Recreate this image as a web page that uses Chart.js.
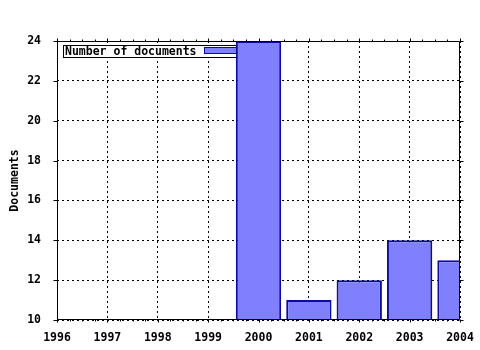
<!DOCTYPE html>
<html>
<head>
<meta charset="utf-8">
<script src="https://cdn.jsdelivr.net/npm/chart.js@4.4.1/dist/chart.umd.min.js"></script>
<style>
  html, body { margin: 0; padding: 0; background: #fff; }
  #c { display: block; }
</style>
</head>
<body>
<canvas id="c" width="480" height="350"></canvas>
<script>
// Documents per year
const years = [2000, 2001, 2002, 2003, 2004];
const documents = [24, 11, 12, 14, 13];
const seriesLabel = 'Number of documents';
const axisTitle = 'Documents';
const xRange = [1996, 2004];
const yRange = [10, 24];

const barFill = '#8080ff';
const barEdge = '#0c0c9c';
const FONT = 'DejaVu Sans Mono';
const FONT_SIZE = 11.5;

Chart.defaults.font.family = FONT;
Chart.defaults.font.size = FONT_SIZE;
Chart.defaults.font.weight = 'bold';
Chart.defaults.color = '#000';

// gnuplot-like frame with short outward ticks on all four sides
const frameTicks = {
    id: 'frameTicks',
    afterDatasetsDraw(chart) {
        const { ctx, chartArea: a, scales: { x, y } } = chart;
        const L = Math.round(a.left) + 0.5, R = Math.round(a.right) - 0.5;
        const T = Math.round(a.top) + 0.5, B = Math.round(a.bottom) - 0.5;
        ctx.save();
        ctx.strokeStyle = '#000';
        ctx.lineWidth = 1;
        ctx.beginPath();
        ctx.rect(L, T, R - L, B - T);
        for (let v = xRange[0]; v <= xRange[1] + 1e-9; v += 0.25) {
            const px = Math.round(x.getPixelForValue(v)) + 0.5;
            const len = Math.abs(v - Math.round(v)) < 1e-9 ? 3 : 2;
            ctx.moveTo(px, B); ctx.lineTo(px, B + len);
            ctx.moveTo(px, T); ctx.lineTo(px, T - len);
        }
        for (let v = yRange[0]; v <= yRange[1]; v += 2) {
            const py = Math.round(y.getPixelForValue(v)) + 0.5;
            ctx.moveTo(L - 4, py); ctx.lineTo(L, py);
            ctx.moveTo(R, py); ctx.lineTo(R + 4, py);
        }
        ctx.stroke();
        ctx.restore();
    }
};

// key box in the top-left corner, drawn under the bars
const keyBox = {
    id: 'keyBox',
    beforeDatasetsDraw(chart) {
        const { ctx, chartArea: a } = chart;
        const left = Math.round(a.left) + 6.5, top = Math.round(a.top) + 4.5;
        ctx.save();
        ctx.fillStyle = '#fff';
        ctx.fillRect(left, top, 190, 12);
        ctx.strokeStyle = '#000';
        ctx.lineWidth = 1;
        ctx.strokeRect(left, top, 190, 12);
        ctx.fillStyle = '#000';
        ctx.font = 'bold ' + FONT_SIZE + 'px "' + FONT + '"';
        ctx.textBaseline = 'middle';
        ctx.fillText(seriesLabel, left + 1.5, top + 6.5);
        ctx.fillStyle = barFill;
        ctx.fillRect(left + 141, top + 2, 45, 6);
        ctx.strokeStyle = barEdge;
        ctx.strokeRect(left + 141, top + 2, 45, 6);
        ctx.restore();
    }
};

new Chart(document.getElementById('c'), {
    type: 'bar',
    data: {
        datasets: [{
            label: seriesLabel,
            data: years.map((yr, i) => ({ x: yr, y: documents[i] })),
            backgroundColor: barFill,
            borderColor: barEdge,
            borderWidth: 2,
            base: yRange[0],
            barPercentage: 0.9,
            categoryPercentage: 1,
            clip: 0
        }]
    },
    options: {
        responsive: false,
        animation: false,
        devicePixelRatio: 1,
        layout: { padding: { top: 41, right: 20, left: 0, bottom: 0 } },
        plugins: {
            legend: { display: false },
            tooltip: { enabled: false }
        },
        scales: {
            x: {
                type: 'linear',
                min: xRange[0],
                max: xRange[1],
                offset: false,
                grid: { color: '#000', offset: false, drawTicks: false, lineWidth: 1 },
                border: { display: false, dash: [2, 3] },
                ticks: {
                    stepSize: 1,
                    padding: 11,
                    maxRotation: 0,
                    callback: v => String(v)
                },
                afterFit: s => { s.height = 30; s.paddingLeft = 0; s.paddingRight = 0; }
            },
            y: {
                min: yRange[0],
                max: yRange[1],
                grid: { color: '#000', drawTicks: false, lineWidth: 1 },
                border: { display: false, dash: [2, 3] },
                ticks: { stepSize: 2, padding: 16 },
                title: {
                    display: true,
                    text: axisTitle,
                    padding: { top: 8, bottom: 0 }
                },
                afterFit: s => { s.width = 57; s.paddingTop = 0; s.paddingBottom = 0; }
            }
        }
    },
    plugins: [keyBox, frameTicks]
});
</script>
</body>
</html>
